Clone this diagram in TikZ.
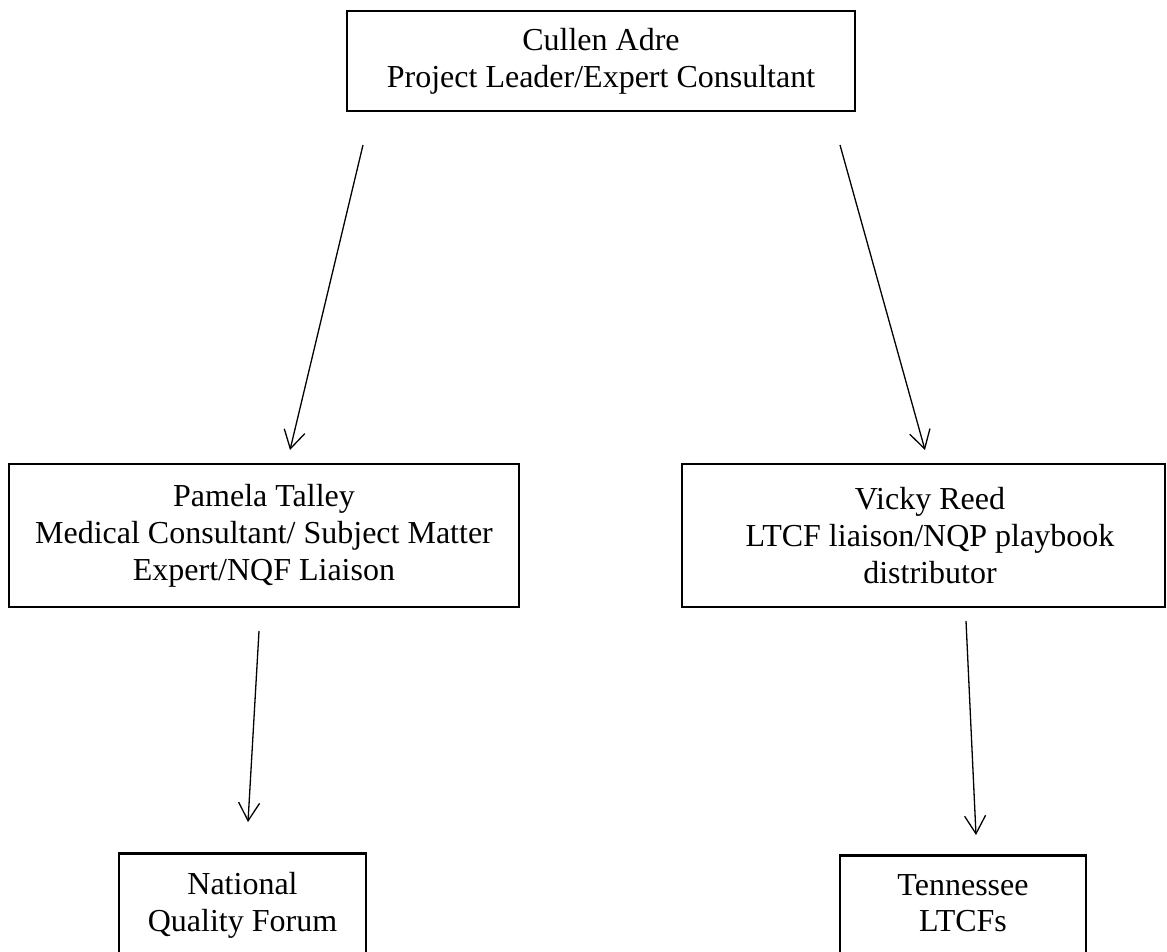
\documentclass[tikz,border=0pt]{standalone}
\usepackage{fontspec}
\setmainfont{Liberation Serif}
\usetikzlibrary{arrows.meta}
\tikzset{
  orgbox/.style={draw, line width=2.6pt, inner sep=0pt, align=center,
    font=\fontsize{32}{36.8}\selectfont},
  orgtext/.style={inner sep=0pt, align=center,
    font=\fontsize{32}{36.8}\selectfont},
  link/.style={line width=1.3pt, -{Straight Barb[length=18pt,width=21pt,line width=1.3pt]}}
}
\begin{document}
\begin{tikzpicture}[x=1pt,y=-1pt]
\useasboundingbox (0,0) rectangle (1167,951);
% boxes
\node[orgbox, minimum width=508pt, minimum height=100pt] (cullen) at (601,61)
  {Cullen Adre\\Project Leader/Expert Consultant};
\node[orgbox, minimum width=510pt, minimum height=143pt] (pamela) at (264,535.5)
  {Pamela Talley\\Medical Consultant/ Subject Matter\\Expert/NQF Liaison};
\node[orgbox, minimum width=483pt, minimum height=143pt] (vicky) at (923.5,535.5) {};
\node[orgtext] (vickyt) at (930,535.5)
  {Vicky Reed\\LTCF liaison/NQP playbook\\distributor};
\node[orgbox, minimum width=247pt, minimum height=140pt, anchor=north] (nqf) at (242.5,852) {};
\node[orgtext, anchor=north] (nqft) at (242.5,872) {National\\Quality Forum};
\node[orgbox, minimum width=246pt, minimum height=140pt, anchor=north] (tn) at (963,854) {};
\node[orgtext, anchor=north] (tnt) at (963,874) {Tennessee\\LTCFs};
% connector ends
\coordinate (c1s) at (363,145);
\coordinate (c1e) at (290,450);
\coordinate (c2s) at (840,145);
\coordinate (c2e) at (925,450);
\coordinate (c3s) at (259,631);
\coordinate (c3e) at (248,822);
\coordinate (c4s) at (966,621);
\coordinate (c4e) at (976,835);
\draw[link] (c1s) -- (c1e);
\draw[link] (c2s) -- (c2e);
\draw[link] (c3s) -- (c3e);
\draw[link] (c4s) -- (c4e);
\end{tikzpicture}
\end{document}
